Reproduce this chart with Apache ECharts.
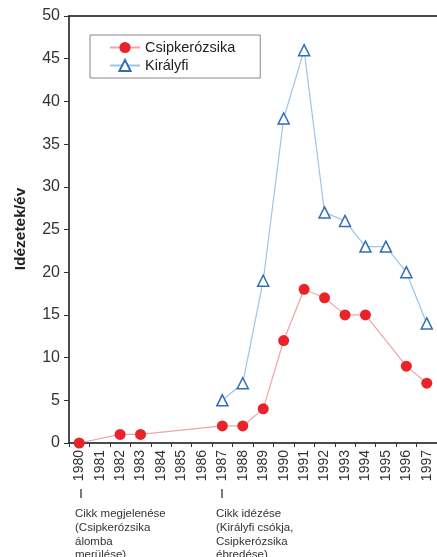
<!DOCTYPE html>
<html><head><meta charset="utf-8">
<script src="https://cdn.jsdelivr.net/npm/echarts@6/dist/echarts.min.js"></script>
<style>html,body{margin:0;padding:0;background:#fff}#c{width:437px;height:557px}</style>
</head><body><div id="c"></div>
<script>
const years = ['1980','1981','1982','1983','1984','1985','1986','1987','1988','1989','1990','1991','1992','1993','1994','1995','1996','1997'];
const csipkerozsika = [0, null, 1, 1, null, null, null, 2, 2, 4, 12, 18, 17, 15, 15, null, 9, 7];
const kiralyfi = [null, null, null, null, null, null, null, 5, 7, 19, 38, 46, 27, 26, 23, 23, 20, 14];
const yTicks = {min: 0, max: 50, interval: 5};

const chart = echarts.init(document.getElementById('c'));
const font = 'Liberation Sans, Arial, sans-serif';
chart.setOption({
  animation: false,
  grid: {left: 69, top: 16, right: 0, bottom: 114},
  legend: {
    orient: 'vertical', left: 90, top: 35,
    data: ['Csipkerózsika', 'Királyfi'],
    backgroundColor: '#fff', borderColor: '#888', borderWidth: 1,
    padding: [5, 25, 5, 19], itemGap: 3, itemWidth: 30, itemHeight: 14,
    textStyle: {fontFamily: font, fontSize: 14.5, color: '#222'}
  },
  xAxis: [{
    type: 'category', data: years, boundaryGap: true,
    axisLine: {lineStyle: {color: '#111', width: 1.5}},
    axisTick: {show: true, length: 4, lineStyle: {color: '#333'}},
    axisLabel: {rotate: 90, fontFamily: font, fontSize: 14, color: '#333', margin: 7, interval: 0}
  }, {
    type: 'category', data: years, position: 'top',
    axisLine: {show: true, lineStyle: {color: '#111', width: 1.5}},
    axisTick: {show: false}, axisLabel: {show: false}
  }],
  yAxis: {
    type: 'value', min: yTicks.min, max: yTicks.max, interval: yTicks.interval,
    axisLine: {show: true, lineStyle: {color: '#111', width: 1.5}},
    axisTick: {show: true, length: 5, lineStyle: {color: '#333'}},
    splitLine: {show: false},
    axisLabel: {fontFamily: font, fontSize: 16, color: '#333', margin: 9}
  },
  series: [{
    name: 'Csipkerózsika', type: 'line', data: csipkerozsika, connectNulls: true,
    symbol: 'circle', symbolSize: 11,
    itemStyle: {color: '#e8232a', borderWidth: 0},
    lineStyle: {color: '#f2a3a6', width: 1.2}
  }, {
    name: 'Királyfi', type: 'line', data: kiralyfi, connectNulls: true,
    symbol: 'triangle', symbolSize: 11,
    itemStyle: {color: '#fff', borderColor: '#2f6db5', borderWidth: 1.5},
    lineStyle: {color: '#9ec4e6', width: 1.2}
  }],
  graphic: [
    {type: 'text', x: 21, y: 229, rotation: Math.PI/2,
      style: {text: 'Idézetek/év', font: 'bold 15.5px ' + font, fill: '#222', textAlign: 'center', textVerticalAlign: 'middle'}},
    {type: 'line', shape: {x1: 81, y1: 489, x2: 81, y2: 498}, style: {stroke: '#333', lineWidth: 1.3}},
    {type: 'line', shape: {x1: 222, y1: 489, x2: 222, y2: 498}, style: {stroke: '#333', lineWidth: 1.3}},
    {type: 'text', left: 75, top: 507,
      style: {text: 'Cikk megjelenése\n(Csipkerózsika\nálomba\nmerülése)', font: '11.5px ' + font, fill: '#333', lineHeight: 13.8}},
    {type: 'text', left: 216, top: 507,
      style: {text: 'Cikk idézése\n(Királyfi csókja,\nCsipkerózsika\nébredése)', font: '11.5px ' + font, fill: '#333', lineHeight: 13.8}}
  ]
});
</script></body></html>
